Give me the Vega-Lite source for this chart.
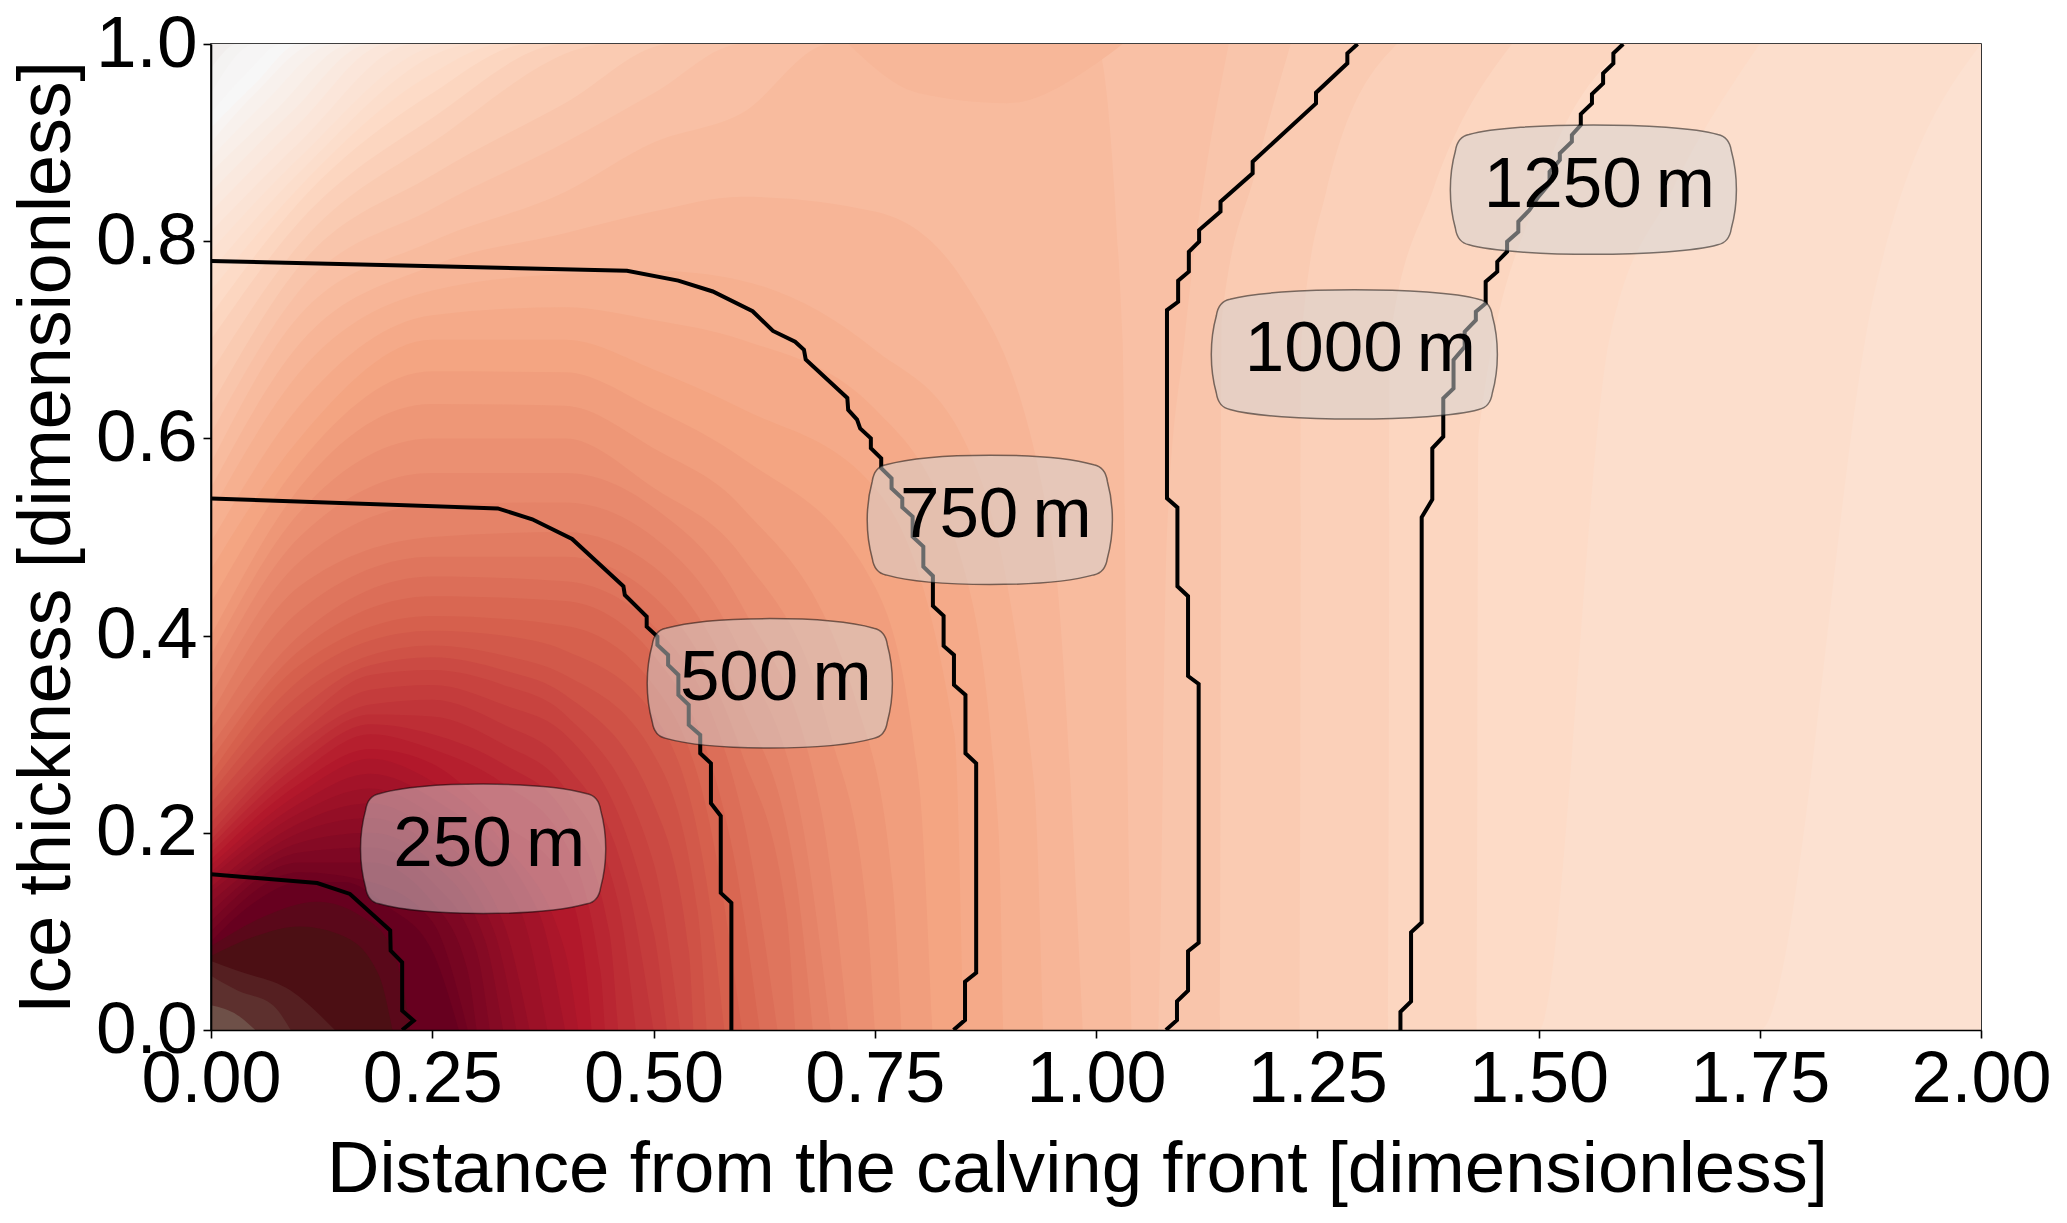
{"$schema":"https://vega.github.io/schema/vega-lite/v6.json","width":1770,"height":986,"autosize":"none","padding":{"left":211,"top":44,"right":86,"bottom":193},"background":"white","config":{"view":{"stroke":"#000","strokeWidth":1.6},"font":"Liberation Sans"},
"datasets":{
"upper":[
{"l":54,"x":0,"y":1,"b":0},{"l":54,"x":2,"y":1,"b":0},
{"l":52,"x":0,"y":0.975,"b":0},{"l":52,"x":0.03,"y":1,"b":0},{"l":52,"x":2,"y":1,"b":0},
{"l":51,"x":0,"y":0.95,"b":0},{"l":51,"x":0.05,"y":1,"b":0},{"l":51,"x":2,"y":1,"b":0},
{"l":50,"x":0,"y":0.93,"b":0},{"l":50,"x":0.04,"y":0.97,"b":0},{"l":50,"x":0.08,"y":1,"b":0},{"l":50,"x":2,"y":1,"b":0},
{"l":49,"x":0,"y":0.915,"b":0},{"l":49,"x":0.05,"y":0.96,"b":0},{"l":49,"x":0.1,"y":1,"b":0},{"l":49,"x":2,"y":1,"b":0},
{"l":48,"x":0,"y":0.9,"b":0},{"l":48,"x":0.05,"y":0.95,"b":0},{"l":48,"x":0.12,"y":1,"b":0},{"l":48,"x":2,"y":1,"b":0},
{"l":47,"x":0,"y":0.885,"b":0},{"l":47,"x":0.06,"y":0.94,"b":0},{"l":47,"x":0.14,"y":1,"b":0},{"l":47,"x":2,"y":1,"b":0},
{"l":46,"x":0,"y":0.87,"b":0},{"l":46,"x":0.07,"y":0.93,"b":0},{"l":46,"x":0.16,"y":1,"b":0},{"l":46,"x":2,"y":1,"b":0},
{"l":45,"x":0,"y":0.85,"b":0},{"l":45,"x":0.09,"y":0.93,"b":0},{"l":45,"x":0.18,"y":1,"b":0},{"l":45,"x":2,"y":1,"b":0},
{"l":44,"x":0,"y":0.83,"b":0},{"l":44,"x":0.1,"y":0.92,"b":0},{"l":44,"x":0.2,"y":1,"b":0},{"l":44,"x":2,"y":1,"b":0},
{"l":43,"x":0,"y":0.81,"b":0},{"l":43,"x":0.1,"y":0.9,"b":0},{"l":43,"x":0.23,"y":1,"b":0},{"l":43,"x":2,"y":1,"b":0},
{"l":42,"x":0,"y":0.79,"b":0},{"l":42,"x":0.1,"y":0.885,"b":0},{"l":42,"x":0.27,"y":1,"b":0},{"l":42,"x":2,"y":1,"b":0},
{"l":41,"x":0,"y":0.77,"b":0},{"l":41,"x":0.1,"y":0.87,"b":0},{"l":41,"x":0.3,"y":1,"b":0},{"l":41,"x":1.75,"y":1,"b":0},{"l":41,"x":1.88,"y":1,"b":0.75},{"l":41,"x":2,"y":1,"b":1},
{"l":40,"x":0,"y":0.75,"b":0},{"l":40,"x":0.1,"y":0.855,"b":0},{"l":40,"x":0.25,"y":0.97,"b":0},{"l":40,"x":0.33,"y":1,"b":0},{"l":40,"x":1.5,"y":1,"b":0},{"l":40,"x":1.58,"y":1,"b":0.7},{"l":40,"x":1.65,"y":1,"b":0.85},{"l":40,"x":1.75,"y":1,"b":1},
{"l":39,"x":0,"y":0.725,"b":0},{"l":39,"x":0.1,"y":0.84,"b":0},{"l":39,"x":0.25,"y":0.95,"b":0},{"l":39,"x":0.36,"y":1,"b":0},{"l":39,"x":1.43,"y":1,"b":0},{"l":39,"x":1.432,"y":1,"b":0.6},{"l":39,"x":1.5,"y":1,"b":0.85},{"l":39,"x":1.6,"y":1,"b":1},
{"l":38,"x":0,"y":0.7,"b":0},{"l":38,"x":0.1,"y":0.82,"b":0},{"l":38,"x":0.25,"y":0.925,"b":0},{"l":38,"x":0.4,"y":1,"b":0},{"l":38,"x":1.33,"y":1,"b":0},{"l":38,"x":1.332,"y":1,"b":0.7},{"l":38,"x":1.38,"y":1,"b":0.85},{"l":38,"x":1.47,"y":1,"b":1},
{"l":37,"x":0,"y":0.667,"b":0},{"l":37,"x":0.1,"y":0.797,"b":0},{"l":37,"x":0.25,"y":0.9,"b":0},{"l":37,"x":0.45,"y":1,"b":0},{"l":37,"x":1.23,"y":1,"b":0},{"l":37,"x":1.232,"y":1,"b":0.7},{"l":37,"x":1.26,"y":1,"b":0.85},{"l":37,"x":1.34,"y":1,"b":1},
{"l":36,"x":0,"y":0.633,"b":0},{"l":36,"x":0.1,"y":0.775,"b":0},{"l":36,"x":0.25,"y":0.867,"b":0},{"l":36,"x":0.4,"y":0.94,"b":0},{"l":36,"x":0.52,"y":1,"b":0},{"l":36,"x":1.14,"y":1,"b":0},{"l":36,"x":1.142,"y":1,"b":0.72},{"l":36,"x":1.18,"y":1,"b":0.87},{"l":36,"x":1.22,"y":1,"b":1},
{"l":35,"x":0,"y":0.605,"b":0},{"l":35,"x":0.1,"y":0.75,"b":0},{"l":35,"x":0.25,"y":0.833,"b":0},{"l":35,"x":0.4,"y":0.9,"b":0},{"l":35,"x":0.5,"y":0.95,"b":0},{"l":35,"x":0.6,"y":1,"b":0},{"l":35,"x":1.07,"y":1,"b":0},{"l":35,"x":1.08,"y":1,"b":0.5},{"l":35,"x":1.1,"y":1,"b":0.7},{"l":35,"x":1.15,"y":1,"b":1},
{"l":34,"x":0,"y":0.575,"b":0},{"l":34,"x":0.1,"y":0.725,"b":0},{"l":34,"x":0.25,"y":0.8,"b":0},{"l":34,"x":0.4,"y":0.85,"b":0},{"l":34,"x":0.5,"y":0.9,"b":0},{"l":34,"x":0.6,"y":0.93,"b":0},{"l":34,"x":0.7,"y":1,"b":0},{"l":34,"x":1,"y":1,"b":0},{"l":34,"x":1.03,"y":0.7,"b":0},{"l":34,"x":1.035,"y":0.3,"b":0},{"l":34,"x":1.04,"y":0,"b":0},
{"l":33.4,"x":0.72,"y":1,"b":1},{"l":33.4,"x":0.8,"y":1,"b":0.95},{"l":33.4,"x":0.9,"y":1,"b":0.94},{"l":33.4,"x":1,"y":1,"b":0.98},{"l":33.4,"x":1.03,"y":1,"b":1}
],
"blobs":[
{"l":33,"x":0,"y":0.55},{"l":33,"x":0.1,"y":0.696},{"l":33,"x":0.25,"y":0.775},{"l":33,"x":0.4,"y":0.808},{"l":33,"x":0.5,"y":0.83},{"l":33,"x":0.6,"y":0.845},{"l":33,"x":0.75,"y":0.83},{"l":33,"x":0.85,"y":0.76},{"l":33,"x":0.95,"y":0.5},{"l":33,"x":0.985,"y":0},
{"l":32,"x":0,"y":0.525},{"l":32,"x":0.1,"y":0.667},{"l":32,"x":0.25,"y":0.75},{"l":32,"x":0.4,"y":0.767},{"l":32,"x":0.5,"y":0.77},{"l":32,"x":0.6,"y":0.76},{"l":32,"x":0.75,"y":0.69},{"l":32,"x":0.85,"y":0.6},{"l":32,"x":0.93,"y":0.25},{"l":32,"x":0.94,"y":0},
{"l":31,"x":0,"y":0.495},{"l":31,"x":0.1,"y":0.633},{"l":31,"x":0.25,"y":0.725},{"l":31,"x":0.4,"y":0.733},{"l":31,"x":0.5,"y":0.72},{"l":31,"x":0.6,"y":0.7},{"l":31,"x":0.75,"y":0.63},{"l":31,"x":0.85,"y":0.47},{"l":31,"x":0.89,"y":0.2},{"l":31,"x":0.895,"y":0},
{"l":30,"x":0,"y":0.467},{"l":30,"x":0.1,"y":0.6},{"l":30,"x":0.25,"y":0.7},{"l":30,"x":0.4,"y":0.7},{"l":30,"x":0.5,"y":0.67},{"l":30,"x":0.6,"y":0.63},{"l":30,"x":0.75,"y":0.55},{"l":30,"x":0.84,"y":0.3},{"l":30,"x":0.85,"y":0},
{"l":29,"x":0,"y":0.433},{"l":29,"x":0.1,"y":0.575},{"l":29,"x":0.25,"y":0.668},{"l":29,"x":0.4,"y":0.667},{"l":29,"x":0.5,"y":0.63},{"l":29,"x":0.6,"y":0.58},{"l":29,"x":0.75,"y":0.45},{"l":29,"x":0.8,"y":0.25},{"l":29,"x":0.815,"y":0},
{"l":28,"x":0,"y":0.4},{"l":28,"x":0.1,"y":0.55},{"l":28,"x":0.25,"y":0.635},{"l":28,"x":0.4,"y":0.633},{"l":28,"x":0.5,"y":0.59},{"l":28,"x":0.6,"y":0.53},{"l":28,"x":0.73,"y":0.33},{"l":28,"x":0.77,"y":0.15},{"l":28,"x":0.78,"y":0},
{"l":27,"x":0,"y":0.38},{"l":27,"x":0.1,"y":0.525},{"l":27,"x":0.25,"y":0.6},{"l":27,"x":0.4,"y":0.6},{"l":27,"x":0.5,"y":0.55},{"l":27,"x":0.6,"y":0.48},{"l":27,"x":0.7,"y":0.3},{"l":27,"x":0.74,"y":0.13},{"l":27,"x":0.75,"y":0},
{"l":26,"x":0,"y":0.36},{"l":26,"x":0.1,"y":0.5},{"l":26,"x":0.25,"y":0.565},{"l":26,"x":0.4,"y":0.565},{"l":26,"x":0.5,"y":0.53},{"l":26,"x":0.6,"y":0.43},{"l":26,"x":0.69,"y":0.22},{"l":26,"x":0.72,"y":0},
{"l":25,"x":0,"y":0.34},{"l":25,"x":0.1,"y":0.475},{"l":25,"x":0.25,"y":0.533},{"l":25,"x":0.4,"y":0.535},{"l":25,"x":0.5,"y":0.5},{"l":25,"x":0.6,"y":0.38},{"l":25,"x":0.67,"y":0.2},{"l":25,"x":0.7,"y":0},
{"l":24,"x":0,"y":0.32},{"l":24,"x":0.1,"y":0.45},{"l":24,"x":0.25,"y":0.5},{"l":24,"x":0.4,"y":0.505},{"l":24,"x":0.5,"y":0.47},{"l":24,"x":0.6,"y":0.33},{"l":24,"x":0.66,"y":0.16},{"l":24,"x":0.68,"y":0},
{"l":23,"x":0,"y":0.304},{"l":23,"x":0.1,"y":0.425},{"l":23,"x":0.25,"y":0.48},{"l":23,"x":0.4,"y":0.48},{"l":23,"x":0.5,"y":0.44},{"l":23,"x":0.6,"y":0.28},{"l":23,"x":0.65,"y":0.12},{"l":23,"x":0.66,"y":0},
{"l":22,"x":0,"y":0.288},{"l":22,"x":0.1,"y":0.4},{"l":22,"x":0.25,"y":0.46},{"l":22,"x":0.4,"y":0.455},{"l":22,"x":0.5,"y":0.41},{"l":22,"x":0.6,"y":0.22},{"l":22,"x":0.64,"y":0},
{"l":21,"x":0,"y":0.274},{"l":21,"x":0.1,"y":0.385},{"l":21,"x":0.25,"y":0.44},{"l":21,"x":0.4,"y":0.435},{"l":21,"x":0.5,"y":0.38},{"l":21,"x":0.59,"y":0.18},{"l":21,"x":0.62,"y":0},
{"l":20,"x":0,"y":0.26},{"l":20,"x":0.1,"y":0.37},{"l":20,"x":0.25,"y":0.42},{"l":20,"x":0.4,"y":0.41},{"l":20,"x":0.5,"y":0.35},{"l":20,"x":0.57,"y":0.18},{"l":20,"x":0.6,"y":0},
{"l":19,"x":0,"y":0.25},{"l":19,"x":0.1,"y":0.355},{"l":19,"x":0.18,"y":0.395},{"l":19,"x":0.25,"y":0.405},{"l":19,"x":0.33,"y":0.4},{"l":19,"x":0.4,"y":0.385},{"l":19,"x":0.5,"y":0.32},{"l":19,"x":0.56,"y":0.15},{"l":19,"x":0.58,"y":0},
{"l":18,"x":0,"y":0.24},{"l":18,"x":0.1,"y":0.34},{"l":18,"x":0.18,"y":0.38},{"l":18,"x":0.25,"y":0.39},{"l":18,"x":0.33,"y":0.38},{"l":18,"x":0.4,"y":0.36},{"l":18,"x":0.5,"y":0.28},{"l":18,"x":0.55,"y":0.12},{"l":18,"x":0.56,"y":0},
{"l":17,"x":0,"y":0.23},{"l":17,"x":0.1,"y":0.325},{"l":17,"x":0.18,"y":0.37},{"l":17,"x":0.25,"y":0.378},{"l":17,"x":0.33,"y":0.365},{"l":17,"x":0.4,"y":0.34},{"l":17,"x":0.5,"y":0.23},{"l":17,"x":0.54,"y":0.08},{"l":17,"x":0.545,"y":0},
{"l":16,"x":0,"y":0.22},{"l":16,"x":0.1,"y":0.31},{"l":16,"x":0.18,"y":0.36},{"l":16,"x":0.25,"y":0.365},{"l":16,"x":0.33,"y":0.35},{"l":16,"x":0.4,"y":0.32},{"l":16,"x":0.5,"y":0.17},{"l":16,"x":0.53,"y":0},
{"l":15,"x":0,"y":0.21},{"l":15,"x":0.1,"y":0.3},{"l":15,"x":0.18,"y":0.345},{"l":15,"x":0.25,"y":0.35},{"l":15,"x":0.33,"y":0.33},{"l":15,"x":0.4,"y":0.3},{"l":15,"x":0.5,"y":0.1},{"l":15,"x":0.515,"y":0},
{"l":14,"x":0,"y":0.2},{"l":14,"x":0.1,"y":0.29},{"l":14,"x":0.18,"y":0.33},{"l":14,"x":0.25,"y":0.335},{"l":14,"x":0.33,"y":0.31},{"l":14,"x":0.4,"y":0.27},{"l":14,"x":0.47,"y":0.15},{"l":14,"x":0.5,"y":0},
{"l":13,"x":0,"y":0.193},{"l":13,"x":0.1,"y":0.28},{"l":13,"x":0.18,"y":0.32},{"l":13,"x":0.25,"y":0.318},{"l":13,"x":0.33,"y":0.29},{"l":13,"x":0.4,"y":0.245},{"l":13,"x":0.46,"y":0.13},{"l":13,"x":0.48,"y":0},
{"l":12,"x":0,"y":0.187},{"l":12,"x":0.1,"y":0.27},{"l":12,"x":0.18,"y":0.31},{"l":12,"x":0.25,"y":0.3},{"l":12,"x":0.33,"y":0.27},{"l":12,"x":0.4,"y":0.22},{"l":12,"x":0.45,"y":0.1},{"l":12,"x":0.46,"y":0},
{"l":11,"x":0,"y":0.18},{"l":11,"x":0.1,"y":0.26},{"l":11,"x":0.18,"y":0.3},{"l":11,"x":0.25,"y":0.285},{"l":11,"x":0.33,"y":0.25},{"l":11,"x":0.4,"y":0.19},{"l":11,"x":0.44,"y":0.06},{"l":11,"x":0.445,"y":0},
{"l":10,"x":0,"y":0.173},{"l":10,"x":0.1,"y":0.25},{"l":10,"x":0.18,"y":0.285},{"l":10,"x":0.25,"y":0.27},{"l":10,"x":0.33,"y":0.21},{"l":10,"x":0.4,"y":0.15},{"l":10,"x":0.425,"y":0.05},{"l":10,"x":0.43,"y":0},
{"l":9,"x":0,"y":0.167},{"l":9,"x":0.1,"y":0.24},{"l":9,"x":0.18,"y":0.275},{"l":9,"x":0.25,"y":0.252},{"l":9,"x":0.33,"y":0.19},{"l":9,"x":0.4,"y":0.08},{"l":9,"x":0.415,"y":0},
{"l":8,"x":0,"y":0.16},{"l":8,"x":0.1,"y":0.23},{"l":8,"x":0.18,"y":0.26},{"l":8,"x":0.25,"y":0.235},{"l":8,"x":0.37,"y":0.12},{"l":8,"x":0.4,"y":0},
{"l":7,"x":0,"y":0.155},{"l":7,"x":0.1,"y":0.22},{"l":7,"x":0.18,"y":0.245},{"l":7,"x":0.25,"y":0.218},{"l":7,"x":0.35,"y":0.12},{"l":7,"x":0.38,"y":0},
{"l":6,"x":0,"y":0.145},{"l":6,"x":0.1,"y":0.21},{"l":6,"x":0.18,"y":0.23},{"l":6,"x":0.25,"y":0.2},{"l":6,"x":0.33,"y":0.11},{"l":6,"x":0.36,"y":0},
{"l":5,"x":0,"y":0.14},{"l":5,"x":0.1,"y":0.2},{"l":5,"x":0.18,"y":0.215},{"l":5,"x":0.25,"y":0.185},{"l":5,"x":0.32,"y":0.1},{"l":5,"x":0.345,"y":0},
{"l":4,"x":0,"y":0.13},{"l":4,"x":0.1,"y":0.19},{"l":4,"x":0.18,"y":0.2},{"l":4,"x":0.25,"y":0.17},{"l":4,"x":0.31,"y":0.09},{"l":4,"x":0.33,"y":0},
{"l":3,"x":0,"y":0.12},{"l":3,"x":0.1,"y":0.18},{"l":3,"x":0.18,"y":0.185},{"l":3,"x":0.25,"y":0.15},{"l":3,"x":0.3,"y":0.08},{"l":3,"x":0.315,"y":0},
{"l":2,"x":0,"y":0.11},{"l":2,"x":0.1,"y":0.17},{"l":2,"x":0.18,"y":0.17},{"l":2,"x":0.25,"y":0.13},{"l":2,"x":0.29,"y":0.06},{"l":2,"x":0.3,"y":0},
{"l":1,"x":0,"y":0.1},{"l":1,"x":0.1,"y":0.16},{"l":1,"x":0.18,"y":0.15},{"l":1,"x":0.25,"y":0.11},{"l":1,"x":0.29,"y":0},
{"l":0,"x":0,"y":0.09},{"l":0,"x":0.05,"y":0.13},{"l":0,"x":0.1,"y":0.15},{"l":0,"x":0.15,"y":0.15},{"l":0,"x":0.2,"y":0.125},{"l":0,"x":0.25,"y":0.08},{"l":0,"x":0.28,"y":0},
{"l":-2,"x":0,"y":0.085},{"l":-2,"x":0.06,"y":0.115},{"l":-2,"x":0.12,"y":0.13},{"l":-2,"x":0.17,"y":0.115},{"l":-2,"x":0.2,"y":0.09},{"l":-2,"x":0.22,"y":0.03},{"l":-2,"x":0.225,"y":0},
{"l":-4,"x":0,"y":0.075},{"l":-4,"x":0.05,"y":0.095},{"l":-4,"x":0.1,"y":0.105},{"l":-4,"x":0.15,"y":0.095},{"l":-4,"x":0.19,"y":0.055},{"l":-4,"x":0.205,"y":0},
{"l":-5,"x":0,"y":0.07},{"l":-5,"x":0.03,"y":0.06},{"l":-5,"x":0.09,"y":0.04},{"l":-5,"x":0.14,"y":0},
{"l":-6,"x":0,"y":0.055},{"l":-6,"x":0.03,"y":0.04},{"l":-6,"x":0.07,"y":0.025},{"l":-6,"x":0.09,"y":0},
{"l":-8,"x":0,"y":0.025},{"l":-8,"x":0.03,"y":0.015},{"l":-8,"x":0.05,"y":0}
],
"contours":[
{"c":250,"x":0,"y":0.158},{"c":250,"x":0.12,"y":0.149},{"c":250,"x":0.157,"y":0.138},{"c":250,"x":0.2025,"y":0.101},{"c":250,"x":0.203,"y":0.0805},{"c":250,"x":0.216,"y":0.0687},{"c":250,"x":0.216,"y":0.0196},{"c":250,"x":0.229,"y":0.0095},{"c":250,"x":0.216,"y":0},
{"c":500,"x":0,"y":0.539},{"c":500,"x":0.324,"y":0.529},{"c":500,"x":0.363,"y":0.518},{"c":500,"x":0.408,"y":0.498},{"c":500,"x":0.466,"y":0.45},{"c":500,"x":0.4676,"y":0.4412},{"c":500,"x":0.4923,"y":0.4192},{"c":500,"x":0.4923,"y":0.4091},{"c":500,"x":0.5044,"y":0.399},{"c":500,"x":0.5044,"y":0.3905},{"c":500,"x":0.5165,"y":0.3804},{"c":500,"x":0.5165,"y":0.3702},{"c":500,"x":0.5281,"y":0.3601},{"c":500,"x":0.5281,"y":0.3398},{"c":500,"x":0.5398,"y":0.3297},{"c":500,"x":0.5398,"y":0.3094},{"c":500,"x":0.5528,"y":0.2992},{"c":500,"x":0.5528,"y":0.2806},{"c":500,"x":0.5649,"y":0.2705},{"c":500,"x":0.5649,"y":0.23},{"c":500,"x":0.576,"y":0.217},{"c":500,"x":0.576,"y":0.139},{"c":500,"x":0.588,"y":0.129},{"c":500,"x":0.588,"y":0},
{"c":750,"x":0,"y":0.78},{"c":750,"x":0.47,"y":0.77},{"c":750,"x":0.528,"y":0.76},{"c":750,"x":0.567,"y":0.749},{"c":750,"x":0.612,"y":0.729},{"c":750,"x":0.635,"y":0.709},{"c":750,"x":0.66,"y":0.698},{"c":750,"x":0.67,"y":0.69},{"c":750,"x":0.672,"y":0.68},{"c":750,"x":0.719,"y":0.641},{"c":750,"x":0.72,"y":0.629},{"c":750,"x":0.73,"y":0.619},{"c":750,"x":0.7335,"y":0.6102},{"c":750,"x":0.7456,"y":0.6001},{"c":750,"x":0.7456,"y":0.59},{"c":750,"x":0.7573,"y":0.5798},{"c":750,"x":0.7573,"y":0.5697},{"c":750,"x":0.769,"y":0.5595},{"c":750,"x":0.769,"y":0.5494},{"c":750,"x":0.7811,"y":0.5392},{"c":750,"x":0.7811,"y":0.5301},{"c":750,"x":0.7928,"y":0.5207},{"c":750,"x":0.7928,"y":0.5004},{"c":750,"x":0.8049,"y":0.4902},{"c":750,"x":0.8049,"y":0.4699},{"c":750,"x":0.8157,"y":0.4605},{"c":750,"x":0.8157,"y":0.4301},{"c":750,"x":0.8278,"y":0.42},{"c":750,"x":0.8278,"y":0.3895},{"c":750,"x":0.8395,"y":0.3804},{"c":750,"x":0.8395,"y":0.35},{"c":750,"x":0.8525,"y":0.3398},{"c":750,"x":0.8525,"y":0.2806},{"c":750,"x":0.8646,"y":0.2705},{"c":750,"x":0.8646,"y":0.058},{"c":750,"x":0.852,"y":0.049},{"c":750,"x":0.852,"y":0.01},{"c":750,"x":0.839,"y":0},
{"c":1000,"x":1.2956,"y":1},{"c":1000,"x":1.284,"y":0.9905},{"c":1000,"x":1.284,"y":0.9804},{"c":1000,"x":1.2486,"y":0.9506},{"c":1000,"x":1.2486,"y":0.9398},{"c":1000,"x":1.177,"y":0.8806},{"c":1000,"x":1.177,"y":0.8688},{"c":1000,"x":1.1407,"y":0.84},{"c":1000,"x":1.1407,"y":0.83},{"c":1000,"x":1.1165,"y":0.8113},{"c":1000,"x":1.1165,"y":0.7995},{"c":1000,"x":1.1049,"y":0.7893},{"c":1000,"x":1.1049,"y":0.7691},{"c":1000,"x":1.0928,"y":0.7599},{"c":1000,"x":1.0928,"y":0.7386},{"c":1000,"x":1.0802,"y":0.7302},{"c":1000,"x":1.0802,"y":0.5392},{"c":1000,"x":1.092,"y":0.53},{"c":1000,"x":1.092,"y":0.45},{"c":1000,"x":1.104,"y":0.44},{"c":1000,"x":1.104,"y":0.359},{"c":1000,"x":1.116,"y":0.351},{"c":1000,"x":1.116,"y":0.0885},{"c":1000,"x":1.104,"y":0.08},{"c":1000,"x":1.104,"y":0.04},{"c":1000,"x":1.0915,"y":0.029},{"c":1000,"x":1.0915,"y":0.01},{"c":1000,"x":1.079,"y":0},
{"c":1250,"x":1.5957,"y":1},{"c":1250,"x":1.5846,"y":0.9905},{"c":1250,"x":1.5846,"y":0.9804},{"c":1250,"x":1.573,"y":0.9702},{"c":1250,"x":1.573,"y":0.9601},{"c":1250,"x":1.5604,"y":0.9492},{"c":1250,"x":1.5604,"y":0.9398},{"c":1250,"x":1.5478,"y":0.929},{"c":1250,"x":1.5478,"y":0.9178},{"c":1250,"x":1.5377,"y":0.9077},{"c":1250,"x":1.5377,"y":0.9009},{"c":1250,"x":1.5241,"y":0.8891},{"c":1250,"x":1.5241,"y":0.8823},{"c":1250,"x":1.5125,"y":0.8705},{"c":1250,"x":1.5125,"y":0.8586},{"c":1250,"x":1.4999,"y":0.8451},{"c":1250,"x":1.4898,"y":0.8316},{"c":1250,"x":1.4772,"y":0.8198},{"c":1250,"x":1.4772,"y":0.8096},{"c":1250,"x":1.4645,"y":0.7995},{"c":1250,"x":1.4645,"y":0.7893},{"c":1250,"x":1.4534,"y":0.7792},{"c":1250,"x":1.4534,"y":0.7691},{"c":1250,"x":1.4403,"y":0.7589},{"c":1250,"x":1.4403,"y":0.7369},{"c":1250,"x":1.4292,"y":0.7285},{"c":1250,"x":1.4292,"y":0.72},{"c":1250,"x":1.4166,"y":0.7082},{"c":1250,"x":1.4166,"y":0.693},{"c":1250,"x":1.404,"y":0.6795},{"c":1250,"x":1.404,"y":0.6507},{"c":1250,"x":1.3924,"y":0.6406},{"c":1250,"x":1.3924,"y":0.6017},{"c":1250,"x":1.38,"y":0.59},{"c":1250,"x":1.38,"y":0.538},{"c":1250,"x":1.368,"y":0.52},{"c":1250,"x":1.368,"y":0.109},{"c":1250,"x":1.356,"y":0.099},{"c":1250,"x":1.356,"y":0.029},{"c":1250,"x":1.344,"y":0.0185},{"c":1250,"x":1.344,"y":0}
],
"labels":[
{"t":"250\u2009m","x":0.3075,"y":0.1838},
{"t":"500\u2009m","x":0.6314,"y":0.3516},
{"t":"750\u2009m","x":0.88,"y":0.5174},
{"t":"1000\u2009m","x":1.2919,"y":0.6852},
{"t":"1250\u2009m","x":1.562,"y":0.8523}
]},
"encoding":{
"x":{"field":"x","type":"quantitative","scale":{"domain":[0,2],"nice":false,"zero":false},"axis":{"zindex":1,"values":[0,0.25,0.5,0.75,1,1.25,1.5,1.75,2],"format":".2f","grid":false,"domainColor":"#000","domainWidth":1.6,"tickColor":"#000","tickWidth":1.6,"tickSize":8,"labelFont":"Liberation Sans","labelFontSize":72,"labelColor":"#000","labelPadding":6,"labelFlush":false,"labelOverlap":false,"title":"Distance from the calving front [dimensionless]","titleFont":"Liberation Sans","titleFontSize":72.6,"titleFontWeight":"normal","titleColor":"#000","titleX":866,"titleY":161,"titleBaseline":"alphabetic"}},
"y":{"field":"y","type":"quantitative","scale":{"domain":[0,1],"nice":false,"zero":false},"axis":{"zindex":1,"values":[0,0.2,0.4,0.6,0.8,1],"format":".1f","grid":false,"domainColor":"#000","domainWidth":1.6,"tickColor":"#000","tickWidth":1.6,"tickSize":8,"labelFont":"Liberation Sans","labelFontSize":73,"labelColor":"#000","labelPadding":6,"labelOverlap":false,"labelFlush":false,"title":"Ice thickness [dimensionless]","titleFont":"Liberation Sans","titleFontSize":73.6,"titleFontWeight":"normal","titleColor":"#000","titleX":-142,"titleY":493,"titleAngle":-90,"titleBaseline":"alphabetic"}}
},
"layer":[
{"data":{"name":"upper"},"mark":{"type":"area","interpolate":"monotone","orient":"vertical","clip":true},"encoding":{"y2":{"field":"b"},"detail":{"field":"l","type":"quantitative"},"color":{"field":"l","type":"quantitative","legend":null,"scale":{"type":"linear","domain":[-8,-4,0,10,20,30,40,50,54],"range":["#6e5048","#4c0f14","#67001f","#b2182b","#d6604d","#f4a582","#fddbc7","#f7f7f7","#f1eeed"],"interpolate":"rgb","clamp":true}}}},
{"data":{"name":"blobs"},"mark":{"type":"area","interpolate":"monotone","orient":"vertical","clip":true},"encoding":{"y2":{"datum":0},"detail":{"field":"l","type":"quantitative"},"color":{"field":"l","type":"quantitative","legend":null,"scale":{"type":"linear","domain":[-8,-4,0,10,20,30,40,50,54],"range":["#6e5048","#4c0f14","#67001f","#b2182b","#d6604d","#f4a582","#fddbc7","#f7f7f7","#f1eeed"],"interpolate":"rgb","clamp":true}}}},
{"data":{"name":"contours"},"mark":{"type":"line","stroke":"#000","strokeWidth":4,"clip":true,"strokeJoin":"miter"},"encoding":{"detail":{"field":"c","type":"nominal"},"order":{"value":null}}},
{"data":{"name":"labels"},"mark":{"type":"point","filled":true,"fill":"#d3d3d3","fillOpacity":0.5,"stroke":"#000","strokeOpacity":0.5,"strokeWidth":1.5,"opacity":1,"size":81796},"encoding":{"shape":{"field":"t","type":"nominal","legend":null,"scale":{"domain":["250\u2009m","500\u2009m","750\u2009m","1000\u2009m","1250\u2009m"],"range":["M-.727,-.385C-.41,-.475 .41,-.475 .727,-.385Q.807,-.37 .822,-.27C.869,-.1 .869,.1 .822,.27Q.807,.37 .727,.385C.41,.475 -.41,.475 -.727,.385Q-.807,.37 -.822,.27C-.869,.1 -.869,-.1 -.822,-.27Q-.807,-.37 -.727,-.385Z","M-.727,-.385C-.41,-.475 .41,-.475 .727,-.385Q.807,-.37 .822,-.27C.869,-.1 .869,.1 .822,.27Q.807,.37 .727,.385C.41,.475 -.41,.475 -.727,.385Q-.807,.37 -.822,.27C-.869,.1 -.869,-.1 -.822,-.27Q-.807,-.37 -.727,-.385Z","M-.727,-.385C-.41,-.475 .41,-.475 .727,-.385Q.807,-.37 .822,-.27C.869,-.1 .869,.1 .822,.27Q.807,.37 .727,.385C.41,.475 -.41,.475 -.727,.385Q-.807,.37 -.822,.27C-.869,.1 -.869,-.1 -.822,-.27Q-.807,-.37 -.727,-.385Z","M-.87,-.385C-.55,-.475 .55,-.475 .87,-.385Q.95,-.37 .965,-.27C1.012,-.1 1.012,.1 .965,.27Q.95,.37 .87,.385C.55,.475 -.55,.475 -.87,.385Q-.95,.37 -.965,.27C-1.012,.1 -1.012,-.1 -.965,-.27Q-.95,-.37 -.87,-.385Z","M-.87,-.385C-.55,-.475 .55,-.475 .87,-.385Q.95,-.37 .965,-.27C1.012,-.1 1.012,.1 .965,.27Q.95,.37 .87,.385C.55,.475 -.55,.475 -.87,.385Q-.95,.37 -.965,.27C-1.012,.1 -1.012,-.1 -.965,-.27Q-.95,-.37 -.87,-.385Z"]}}}},
{"data":{"name":"labels"},"mark":{"type":"text","font":"Liberation Sans","fontSize":71,"color":"#000","align":"center","baseline":"middle","dx":6,"dy":-4},"encoding":{"text":{"field":"t","type":"nominal"}}}
]}
